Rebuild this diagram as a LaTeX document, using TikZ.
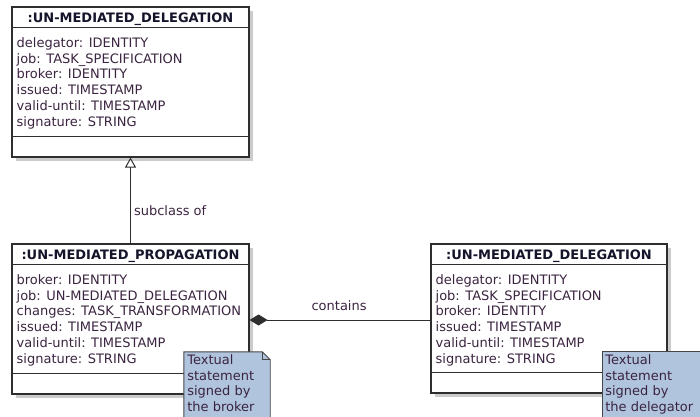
\documentclass[tikz,border=0pt]{standalone}
\usepackage{fontspec}
\setmainfont{DejaVu Sans}
\usetikzlibrary{arrows.meta,shadows,calc}
\definecolor{edge}{HTML}{2E2E2E}
\definecolor{attrcol}{HTML}{3B2440}
\definecolor{titlecol}{HTML}{14142A}
\definecolor{notefill}{HTML}{B0C4DE}
\definecolor{noteedge}{HTML}{454545}
\definecolor{shade}{HTML}{CBCBCB}
\begin{document}
\begin{tikzpicture}[x=1pt,y=-1pt,
  classbox/.style={draw=edge, line width=1.1pt, fill=white, inner sep=0pt,
    minimum width=237pt, minimum height=150pt,
    drop shadow={shadow xshift=4pt, shadow yshift=-4pt, fill=shade, opacity=1}},
  divider/.style={draw=edge, line width=1.0pt},
  titletext/.style={font=\fontsize{13}{15.7}\bfseries\selectfont, text=titlecol, inner sep=0pt, anchor=base},
  attrtext/.style={font=\fontsize{13}{15.7}\selectfont, text=attrcol, inner sep=0pt, align=left, anchor=north west},
  labeltext/.style={font=\fontsize{13}{15.7}\selectfont, text=attrcol, inner sep=0pt, anchor=base west},
  notearea/.style={inner sep=0pt, minimum width=86pt, minimum height=68pt},
  notepaint/.style={draw=noteedge, line width=0.9pt, fill=notefill},
  notetext/.style={font=\fontsize{13}{15.6}\selectfont, text=attrcol, inner sep=0pt, align=left, anchor=north west},
  generalization/.style={draw=edge, line width=1.0pt, -{Triangle[open, length=10pt, width=11pt, fill=white]}},
  composition/.style={draw=edge, line width=1.0pt, {Diamond[length=18pt, width=11pt]}-}
]
\useasboundingbox (0,0) rectangle (700,416);
\clip (0,0) rectangle (700,416);

% top class: delegation
\node[classbox] (deleg) at (130.5,82) {};
\draw[divider] ($(deleg.north west)+(0,21)$) -- ($(deleg.north east)+(0,21)$);
\draw[divider] ($(deleg.south west)+(0,-21)$) -- ($(deleg.south east)+(0,-21)$);
\node[titletext] (deleg-title) at ($(deleg.north)+(0,16.5)$) {:UN-MEDIATED\_DELEGATION};
\node[attrtext] (deleg-attrs) at ($(deleg.north west)+(5,31)$)
  {delegator: IDENTITY\\job: TASK\_SPECIFICATION\\broker: IDENTITY\\issued: TIMESTAMP\\valid-until: TIMESTAMP\\signature: STRING};

% lower left class: propagation
\node[classbox] (prop) at (130.5,319) {};
\draw[divider] ($(prop.north west)+(0,21)$) -- ($(prop.north east)+(0,21)$);
\draw[divider] ($(prop.south west)+(0,-21)$) -- ($(prop.south east)+(0,-21)$);
\node[titletext] (prop-title) at ($(prop.north)+(0,16)$) {:UN-MEDIATED\_PROPAGATION};
\node[attrtext] (prop-attrs) at ($(prop.north west)+(5,31)$)
  {broker: IDENTITY\\job: UN-MEDIATED\_DELEGATION\\changes: TASK\_TRANSFORMATION\\issued: TIMESTAMP\\valid-until: TIMESTAMP\\signature: STRING};

% lower right class: contained delegation
\node[classbox, minimum width=236pt, minimum height=149pt] (inner) at (549,318.5) {};
\draw[divider] ($(inner.north west)+(0,21)$) -- ($(inner.north east)+(0,21)$);
\draw[divider] ($(inner.south west)+(0,-21)$) -- ($(inner.south east)+(0,-21)$);
\node[titletext] (inner-title) at ($(inner.north)+(0,16)$) {:UN-MEDIATED\_DELEGATION};
\node[attrtext] (inner-attrs) at ($(inner.north west)+(5,31)$)
  {delegator: IDENTITY\\job: TASK\_SPECIFICATION\\broker: IDENTITY\\issued: TIMESTAMP\\valid-until: TIMESTAMP\\signature: STRING};

% relations
\draw[generalization] (prop.north) -- (deleg.south)
  node[labeltext, pos=0.32, xshift=3pt] (sub-label) {subclass of};
\draw[composition] (prop.east |- 0,320) -- (inner.west |- 0,320)
  node[labeltext, pos=0.34, yshift=9.3pt] (cont-label) {contains};

% notes
\node[notearea] (note1) at (227,386) {};
\filldraw[notepaint] (note1.north west) -- ($(note1.north east)+(-8,0)$) -- ($(note1.north east)+(0,8)$)
  -- (note1.south east) -- (note1.south west) -- cycle;
\draw[notepaint, fill=none] ($(note1.north east)+(-8,0)$) -- ++(0,8) -- ++(8,0);
\node[notetext] (note1-text) at ($(note1.north west)+(3.3,2.6)$) {Textual\\statement\\signed by\\the broker};

\node[notearea, minimum width=120pt] (note2) at (662.7,386) {};
\filldraw[notepaint] (note2.north west) -- (note2.north east) -- (note2.south east) -- (note2.south west) -- cycle;
\node[notetext] (note2-text) at ($(note2.north west)+(2.6,2.6)$) {Textual\\statement\\signed by\\the delegator};
\end{tikzpicture}
\end{document}
